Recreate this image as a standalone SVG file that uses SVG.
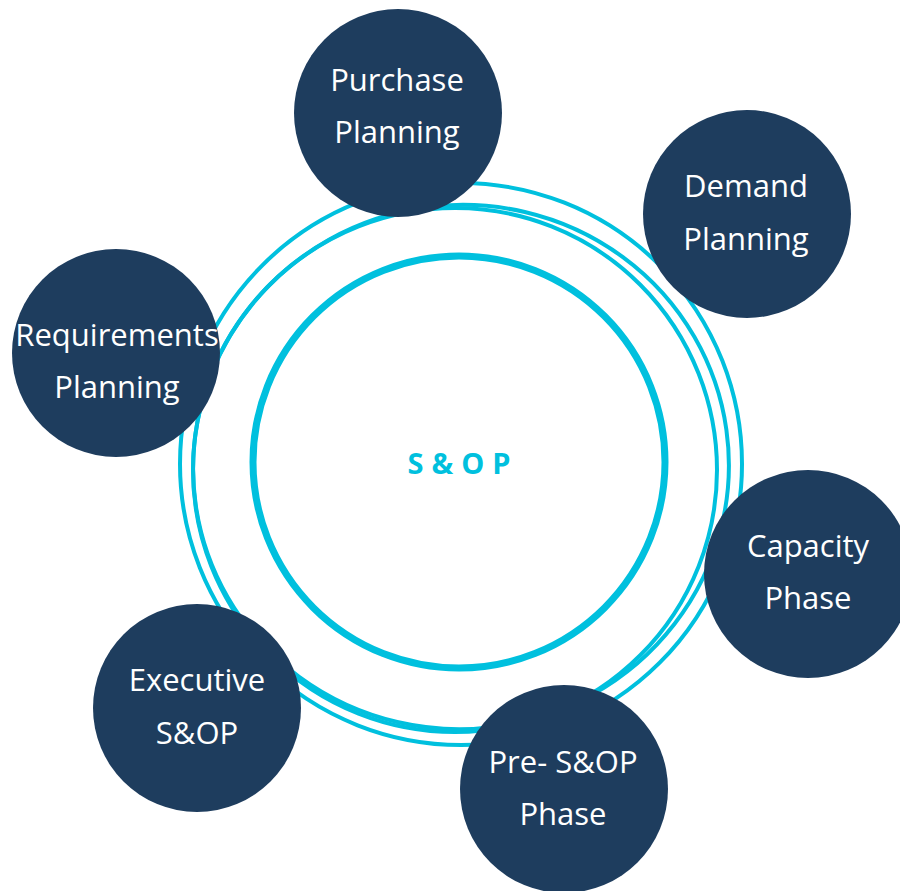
<svg xmlns="http://www.w3.org/2000/svg" width="900" height="891" viewBox="0 0 900 891">
  <style>
    .ring { fill: none; stroke: #00C0DE; stroke-width: 4; }
    .core { fill: none; stroke: #00C0DE; stroke-width: 7; }
    .node { fill: #1E3D5E; }
    .label { fill: #FFFFFF; font-family: "Open Sans", "Noto Sans", sans-serif; font-size: 31px; text-anchor: middle; }
    .hub { fill: #00C0DE; font-family: "Open Sans", "Noto Sans", sans-serif; font-size: 29px; font-weight: bold; letter-spacing: 8px; text-anchor: middle; }
  </style>

  <!-- hand-drawn looking cycle loops around the hub -->
  <g id="connectors">
    <ellipse class="ring" cx="461" cy="464" rx="281" ry="281"/>
    <ellipse class="ring" cx="461" cy="467" rx="268" ry="262" transform="rotate(-8 461 467)"/>
    <ellipse class="ring" cx="455" cy="470" rx="262" ry="262"/>
  </g>

  <g id="hub">
    <circle class="core" cx="459" cy="462" r="206"/>
    <text class="hub" x="463" y="474">S&amp;OP</text>
  </g>

  <g id="purchase-planning">
    <circle class="node" cx="398" cy="113" r="104"/>
    <text class="label" x="397" y="91">Purchase</text>
    <text class="label" x="397" y="143">Planning</text>
  </g>

  <g id="demand-planning">
    <circle class="node" cx="747" cy="214" r="104"/>
    <text class="label" x="746" y="197">Demand</text>
    <text class="label" x="746" y="250">Planning</text>
  </g>

  <g id="requirements-planning">
    <circle class="node" cx="116" cy="353" r="104"/>
    <text class="label" x="117" y="346">Requirements</text>
    <text class="label" x="117" y="398">Planning</text>
  </g>

  <g id="capacity-phase">
    <circle class="node" cx="808" cy="574" r="104"/>
    <text class="label" x="808" y="557">Capacity</text>
    <text class="label" x="808" y="609">Phase</text>
  </g>

  <g id="executive-sop">
    <circle class="node" cx="197" cy="708" r="104"/>
    <text class="label" x="197" y="691">Executive</text>
    <text class="label" x="197" y="744">S&amp;OP</text>
  </g>

  <g id="pre-sop-phase">
    <circle class="node" cx="564" cy="789" r="104"/>
    <text class="label" x="563" y="773">Pre- S&amp;OP</text>
    <text class="label" x="563" y="825">Phase</text>
  </g>
</svg>
